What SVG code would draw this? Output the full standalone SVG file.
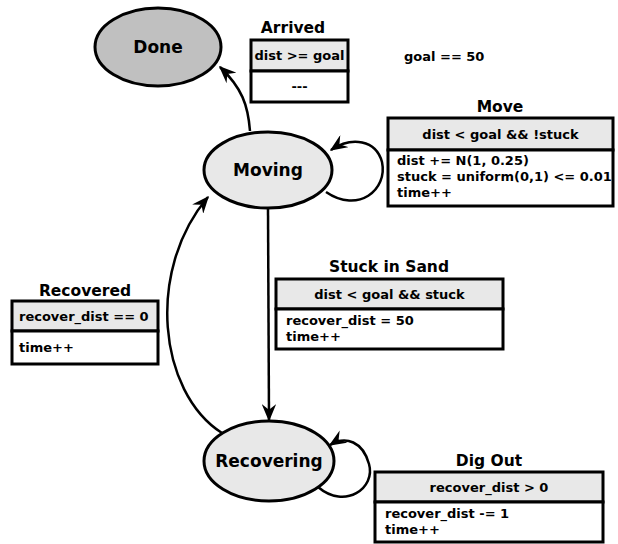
<svg xmlns="http://www.w3.org/2000/svg" width="618" height="544" viewBox="0 0 618 544">
<style>
text{font-family:"DejaVu Sans","Liberation Sans",sans-serif;font-weight:bold;fill:#000}
.st{stroke:#000;stroke-width:3}
.title{font-size:15.5px;text-anchor:middle}
.cell{font-size:13px}
.hdr{fill:#e8e8e8;stroke:#000;stroke-width:3}
.body{fill:#fff;stroke:#000;stroke-width:3}
.node{font-size:17px;text-anchor:middle}
.edge{fill:none;stroke:#000;stroke-width:2.5;marker-end:url(#ah)}
</style>
<defs>
<marker id="ah" viewBox="0 0 12 10" refX="11" refY="5" markerWidth="7" markerHeight="5.8" orient="auto" markerUnits="strokeWidth">
<path d="M0,0 L12,5 L0,10 L4,5 z" fill="#000"/>
</marker>
</defs>
<rect width="618" height="544" fill="#fff"/>
<g id="connectors">
<path class="edge" d="M250,131 C248,105 242,88 220,67"/>
<path class="edge" d="M326,192 C358,214 388,190 382,162 C376,140 352,136 331,150"/>
<path class="edge" d="M268,209 L269,420"/>
<path class="edge" d="M222,433 C158,392 146,270 208,197"/>
<path class="edge" d="M318,487 C345,510 376,488 369,464 C363,442 346,435 330,445"/>
</g>
<g id="done">
<ellipse cx="158" cy="47" rx="63" ry="39" fill="#c0c0c0" class="st"/>
<text x="158" y="53" class="node">Done</text>
</g>
<g id="moving">
<ellipse cx="268" cy="170" rx="64" ry="38" fill="#e8e8e8" class="st"/>
<text x="268" y="176" class="node">Moving</text>
</g>
<g id="recovering">
<ellipse cx="269" cy="461" rx="65" ry="40" fill="#e8e8e8" class="st"/>
<text x="269" y="467" class="node">Recovering</text>
</g>
<g id="arrived">
<text x="293" y="33" class="title">Arrived</text>
<rect x="251" y="40" width="97" height="31" class="hdr"/>
<rect x="251" y="71" width="97" height="31" class="body"/>
<text x="299.5" y="60" class="cell" text-anchor="middle">dist &gt;= goal</text>
<text x="299.5" y="91" class="cell" text-anchor="middle">---</text>
</g>
<g id="goal">
<text x="404" y="61" class="cell">goal == 50</text>
</g>
<g id="move">
<text x="500" y="112" class="title">Move</text>
<rect x="388" y="118" width="225" height="32" class="hdr"/>
<rect x="388" y="150" width="225" height="56" class="body"/>
<text x="500.5" y="139" class="cell" text-anchor="middle">dist &lt; goal &amp;&amp; !stuck</text>
<text x="397" y="165" class="cell">dist += N(1, 0.25)</text>
<text x="397" y="181" class="cell">stuck = uniform(0,1) &lt;= 0.01</text>
<text x="397" y="197" class="cell">time++</text>
</g>
<g id="stuck">
<text x="389" y="272" class="title">Stuck in Sand</text>
<rect x="276" y="279" width="227" height="30" class="hdr"/>
<rect x="276" y="309" width="227" height="40" class="body"/>
<text x="389.5" y="299" class="cell" text-anchor="middle">dist &lt; goal &amp;&amp; stuck</text>
<text x="286" y="325" class="cell">recover_dist = 50</text>
<text x="286" y="341" class="cell">time++</text>
</g>
<g id="recovered">
<text x="85" y="296" class="title">Recovered</text>
<rect x="12" y="301" width="146" height="30" class="hdr"/>
<rect x="12" y="331" width="146" height="33" class="body"/>
<text x="19" y="321" class="cell">recover_dist == 0</text>
<text x="19" y="352" class="cell">time++</text>
</g>
<g id="digout">
<text x="489" y="466" class="title">Dig Out</text>
<rect x="375" y="472" width="228" height="30" class="hdr"/>
<rect x="375" y="502" width="228" height="40" class="body"/>
<text x="489" y="492" class="cell" text-anchor="middle">recover_dist &gt; 0</text>
<text x="385" y="518" class="cell">recover_dist -= 1</text>
<text x="385" y="534" class="cell">time++</text>
</g>
</svg>
